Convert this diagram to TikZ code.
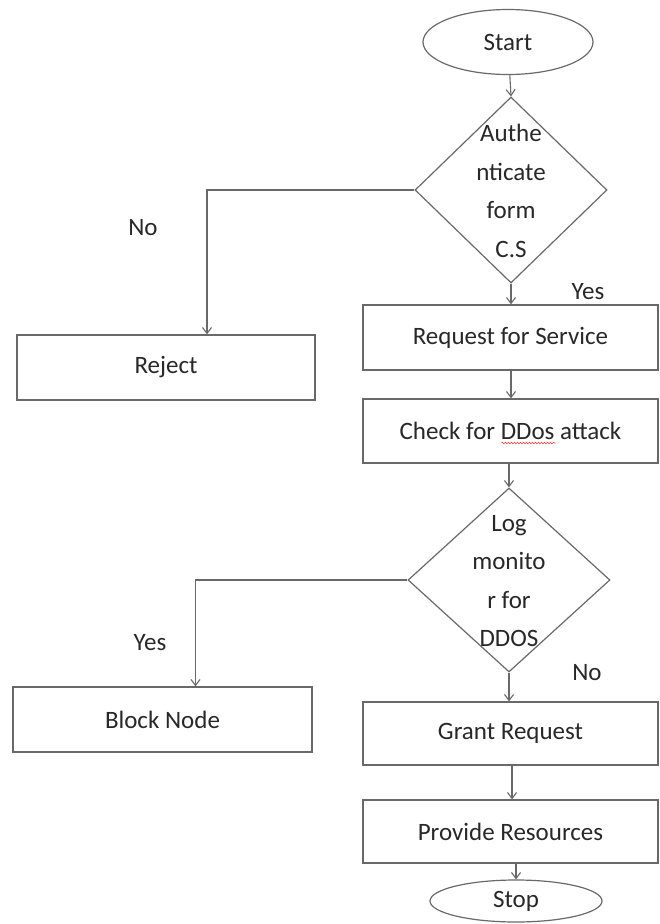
\documentclass[tikz,border=0pt]{standalone}
\usepackage{fontspec}
\setmainfont{Carlito}
\usetikzlibrary{shapes.geometric,arrows.meta,decorations.pathmorphing}

\definecolor{linegray}{RGB}{105,105,105}
\definecolor{textgray}{RGB}{40,40,40}

\tikzset{
  every node/.style={text=textgray, font=\fontsize{25}{38.5}\selectfont},
  stepbox/.style={draw=linegray, line width=1.2pt, rectangle, inner sep=0pt},
  terminal/.style={draw=linegray, line width=1.2pt, ellipse, inner sep=0pt},
  decision/.style={draw=linegray, line width=1.2pt, diamond, inner sep=0pt},
  dectext/.style={align=center, inner sep=0pt},
  arr/.style={draw=linegray, line width=1.1pt, -{Straight Barb[length=6pt,width=9pt]}},
  lbl/.style={inner sep=0pt}
}

\begin{document}
\begin{tikzpicture}[x=1pt, y=-1pt]
  \useasboundingbox (0,0) rectangle (659,924);
  \fill[white] (0,0) rectangle (659,924);

  % terminals
  \node[terminal, minimum width=170pt, minimum height=65pt] (start) at (508,42) {Start};
  \node[terminal, minimum width=172pt, minimum height=42pt] (stop) at (516,901) {Stop};

  % decisions: outline and wrapped text are separate so the text may overhang
  \node[decision, minimum width=192pt, minimum height=186pt] (auth) at (511,190) {};
  \node[dectext] (authtxt) at (511,191) {Authe\\nticate\\form\\C.S};
  \node[decision, minimum width=202pt, minimum height=184pt] (logmon) at (509,580) {};
  \node[dectext] (logtxt) at (509,581) {Log\\monito\\r for\\DDOS};

  % process boxes
  \node[stepbox, minimum width=295pt, minimum height=65pt] (req) at (510.5,337.5) {Request for Service};
  \node[stepbox, minimum width=295pt, minimum height=64pt] (chk) at (510.5,431) {Check for DDos attack};
  \node[stepbox, minimum width=295pt, minimum height=63pt] (grant) at (510.5,733.5) {Grant Request};
  \node[stepbox, minimum width=295pt, minimum height=63pt] (prov) at (510.5,831.5) {Provide Resources};
  \node[stepbox, minimum width=298pt, minimum height=65pt] (rej) at (166,367.5) {Reject};
  \node[stepbox, minimum width=299pt, minimum height=65pt] (blk) at (162.5,719.5) {Block Node};

  % spell-check squiggle under "DDos"
  \draw[red!75!white, line width=0.6pt, decorate,
        decoration={snake, amplitude=0.8pt, segment length=3pt}]
    ([shift={(-9,12)}]chk.center) -- ([shift={(45,12)}]chk.center);

  % main column
  \draw[arr] (start) -- (auth.north);
  \draw[arr] (auth.south) -- (req.north -| auth.south);
  \draw[arr] (req.south -| auth.south) -- (chk.north -| auth.south);
  \draw[arr] (chk.south -| logmon.north) -- (logmon.north);
  \draw[arr] (logmon.south) -- (grant.north -| logmon.south);
  \draw[arr] (grant.south -| 512,0) -- (prov.north -| 512,0);
  \draw[arr] (prov.south -| stop.north) -- (stop.north);

  % side branches
  \draw[arr] (auth.west) -| ([xshift=41pt]rej.north);
  \draw[arr] (logmon.west) -| ([xshift=33pt]blk.north);

  % branch labels
  \node[lbl] (noA) at (143,228) {No};
  \node[lbl] (yesA) at (588,292) {Yes};
  \node[lbl] (yesB) at (150,643) {Yes};
  \node[lbl] (noB) at (587,673) {No};
\end{tikzpicture}
\end{document}
